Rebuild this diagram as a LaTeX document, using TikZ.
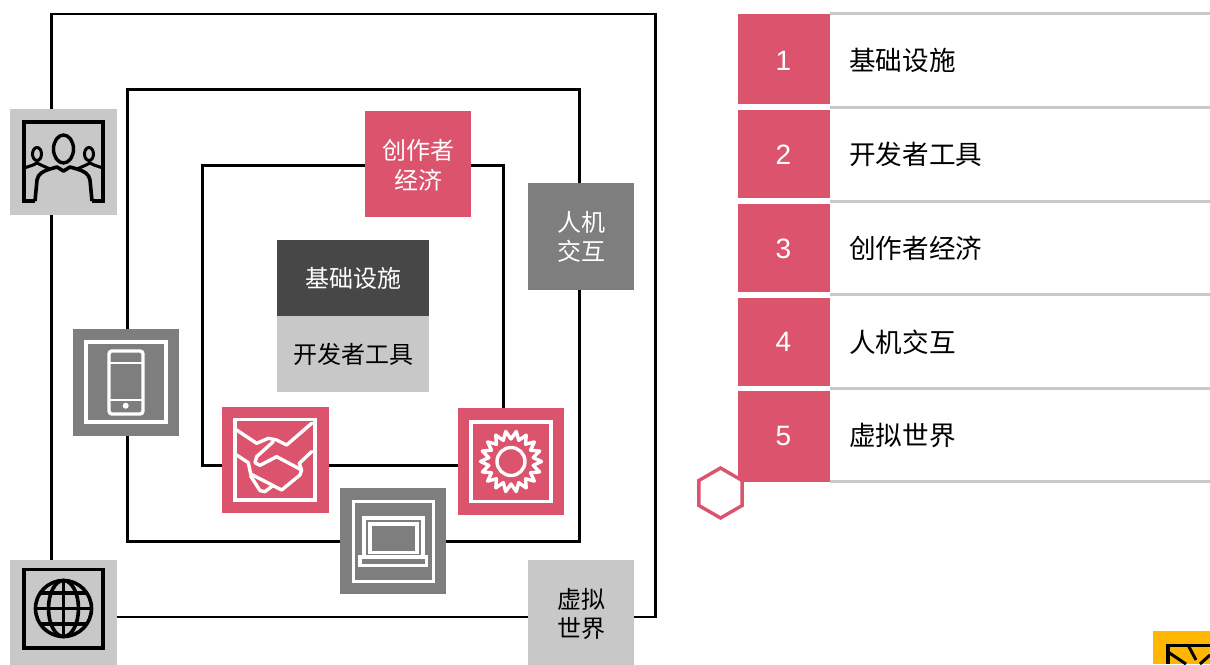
\documentclass[tikz,border=0pt]{standalone}
\usepackage{fontspec}
\setmainfont{Liberation Sans}
\newfontfamily\cjk{Noto Sans CJK SC}
\usepackage{xcolor}
\usetikzlibrary{shapes.geometric, positioning, calc}
\definecolor{rosecolor}{RGB}{219, 83, 108}
\definecolor{midcolor}{RGB}{126, 126, 126}
\definecolor{palecolor}{RGB}{200, 200, 200}
\definecolor{darkcolor}{RGB}{71, 71, 71}
\definecolor{suncolor}{RGB}{255, 182, 0}

\begin{document}
\begin{tikzpicture}[
    x=1pt, y=-1pt,
    ring/.style={draw=black, line width=2.8pt, fill=none, inner sep=0pt, outer sep=0pt},
    tile/.style={minimum width=106.5pt, minimum height=106.5pt, inner sep=0pt, outer sep=0pt},
    tiletext/.style={inner sep=0pt, align=center, font=\fontsize{24}{29.5}\selectfont\cjk},
    block/.style={minimum width=152pt, minimum height=76pt, inner sep=0pt, outer sep=0pt, font=\fontsize{24}{29}\selectfont\cjk},
    numbox/.style={fill=rosecolor, text=white, minimum width=92pt, inner sep=0pt, outer sep=0pt, font=\fontsize{28}{32}\selectfont},
    rowlabel/.style={anchor=west, inner sep=0pt, font=\fontsize{26.6}{30}\selectfont\cjk},
    rule/.style={draw=palecolor, line width=3pt},
    lightline/.style={draw=white, line width=3.4pt, fill=none, line join=miter},
    darkline/.style={draw=black, line width=3.6pt, fill=none, line join=miter},
    softline/.style={draw=white, line width=3.4pt, fill=none, line join=round, line cap=round},
]
    \useasboundingbox (0,0) rectangle (1210,664);
    \clip (0,0) rectangle (1210,664);

    % Nested frames
    \node[ring, minimum width=604pt, minimum height=603pt] (outerring) at (353.5,315.5) {};
    \node[ring, minimum width=452pt, minimum height=452pt] (midring) at (353.5,315.5) {};
    \node[ring, minimum width=301pt, minimum height=300pt] (innerring) at (353,315.5) {};

    % Centre blocks
    \node[block, fill=darkcolor, text=white] (base) at (353,278) {\kern1pt 基础设施};
    \node[block, fill=palecolor, below=0pt of base] (devtools) {\kern1pt 开发者工具};

    % Text tiles
    \node[tile, fill=rosecolor] (creator) at (418,164) {};
    \node[tile, fill=midcolor] (hci) at (581,236.5) {};
    \node[tile, fill=palecolor] (virtual) at (581,613.5) {};
    \node[tiletext, text=white] (creatortext) at (418,165) {创作者\\经济};
    \node[tiletext, text=white] (hcitext) at (581.5,237) {人机\\交互};
    \node[tiletext] (virtualtext) at (581.5,614) {虚拟\\世界};

    % Icon tiles
    \node[tile, fill=palecolor] (people) at (63.5,162) {};
    \node[tile, fill=midcolor] (phone) at (126,382.5) {};
    \node[tile, fill=rosecolor] (hands) at (275.5,460) {};
    \node[tile, fill=rosecolor] (sun) at (511,461.5) {};
    \node[tile, fill=midcolor] (laptop) at (393,541) {};
    \node[tile, fill=palecolor] (globe) at (63.5,613.5) {};

    % People icon
    \draw[darkline] (35,201) -- (24,201) -- (24,122) -- (103,122) -- (103,201) -- (92,201);
    \draw[darkline, line join=round] (35,201) -- (37,180) .. controls (38,174) and (43,171) .. (50,169) -- (57,167) -- (63.5,171) -- (70,167) -- (77,169) .. controls (84,171) and (89,174) .. (90,180) -- (92,201);
    \draw[darkline, line width=3pt, line join=round] (24,168) -- (33,165) -- (37,163) -- (41,165) -- (50,169);
    \draw[darkline, line width=3pt, line join=round] (103,168) -- (94,165) -- (90,163) -- (86,165) -- (77,169);
    \draw[darkline, line width=3.4pt] (63.5,149) ellipse (10 and 14);
    \draw[darkline, line width=3pt] (37,154) ellipse (4.5 and 6.5);
    \draw[darkline, line width=3pt] (89,154) ellipse (4.5 and 6.5);

    % Phone icon
    \draw[lightline] (86,342) rectangle (166,422);
    \draw[lightline, rounded corners=3pt] (109,351) rectangle (143,414);
    \draw[lightline, line width=2.4pt] (109,363) -- (143,363) (109,400) -- (143,400);
    \fill[white] (125.7,405.7) circle (3);

    % Handshake icon
    \draw[lightline] (235,419.5) rectangle (315,500);
    \begin{scope}[shift={(60,320)}, x=0.3333pt, y=-0.3333pt]
        \draw[softline] (530,330) -- (590,370) -- (625,355) -- (650,360) -- (680,375) -- (755,310);
        \draw[softline] (640,365) -- (590,410) -- (585,428) -- (600,436) -- (650,410) -- (725,450) -- (720,465) -- (665,510) -- (572,462) -- (565,428) -- (530,405);
        \draw[softline] (572,468) -- (600,512) -- (615,515) -- (640,496);
        \draw[softline] (755,395) -- (718,430) -- (725,450);
    \end{scope}

    % Sun icon
    \draw[lightline] (471,422) rectangle (551,501.5);
    \draw[softline, shift={(511,461.5)}] plot[samples=37, domain=0:360] (\x:{26.5+4*cos(18*\x)}) -- cycle;
    \draw[lightline] (511,461.5) circle (14);

    % Laptop icon
    \draw[lightline] (353.5,501.5) rectangle (433.5,581.5);
    \draw[lightline] (364,518) rectangle (423,557);
    \draw[lightline] (370,524) rectangle (417,552.5);
    \draw[lightline] (360,557) rectangle (426.5,565.5);

    % Globe icon
    \draw[darkline] (24,569.5) rectangle (103,648);
    \draw[darkline] (63.5,608.5) circle (28);
    \draw[darkline] (63.5,608.5) ellipse (15 and 28);
    \draw[darkline] (63.5,580.5) -- (63.5,636.5);
    \draw[darkline] (35.5,608.5) -- (91.5,608.5) (40,593) -- (87,593) (40,624) -- (87,624);

    % Table rows
    \node[numbox, minimum height=90pt] (num1) at (784,58.5) {};
    \node[numbox, minimum height=88pt] (num2) at (784,154) {};
    \node[numbox, minimum height=88pt] (num3) at (784,248) {};
    \node[numbox, minimum height=88pt] (num4) at (784,341.5) {};
    \node[numbox, minimum height=91pt] (num5) at (784,436.5) {};
    \node[text=white, font=\fontsize{28}{32}\selectfont] (digit1) at (783.5,61) {1};
    \node[text=white, font=\fontsize{28}{32}\selectfont] (digit2) at (783.5,154.5) {2};
    \node[text=white, font=\fontsize{28}{32}\selectfont] (digit3) at (783.5,248.5) {3};
    \node[text=white, font=\fontsize{28}{32}\selectfont] (digit4) at (783.5,342) {4};
    \node[text=white, font=\fontsize{28}{32}\selectfont] (digit5) at (783.5,436) {5};
    \node[rowlabel] (label1) at (849,60.5) {基础设施};
    \node[rowlabel] (label2) at (849,154.5) {开发者工具};
    \node[rowlabel] (label3) at (849,248.5) {创作者经济};
    \node[rowlabel] (label4) at (849,342) {人机交互};
    \node[rowlabel] (label5) at (849,435.5) {虚拟世界};
    \foreach \y in {13.5,107,201,294.5,388,481.5}
        \draw[rule] (830,\y) -- (1210,\y);

    % Hexagon marker
    \node[regular polygon, regular polygon sides=6, shape border rotate=30, draw=rosecolor, line width=3.4pt, fill=white, minimum size=50pt, inner sep=0pt] (marker) at (720.5,493) {};

    % Cut off badge
    \fill[suncolor] (1153,631) rectangle (1210,664);
    \draw[darkline] (1210,645.5) -- (1168,645.5) -- (1168,664);
    \draw[darkline, line width=3pt] (1168,652) -- (1186,664) (1188,645) -- (1196,660) (1210,655) -- (1200,664);
\end{tikzpicture}
\end{document}
